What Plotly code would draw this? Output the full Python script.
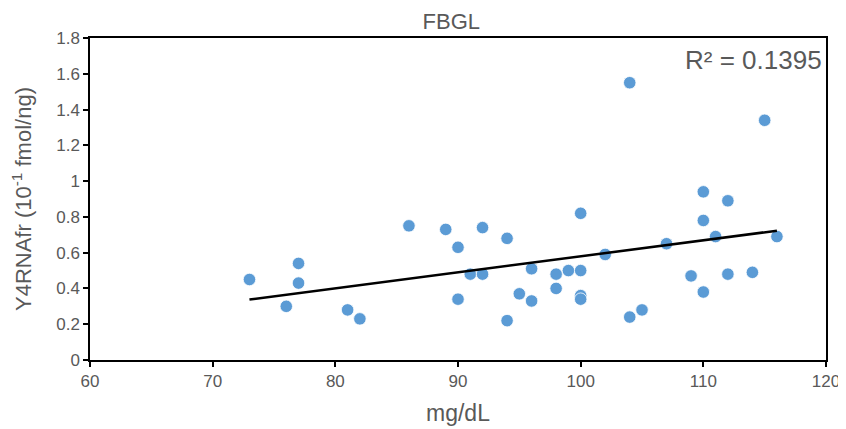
import numpy as np
import plotly.graph_objects as go

x_vals = [73, 76, 77, 77, 81, 82, 86, 89, 90, 90, 91, 92, 92, 94, 94, 95, 96, 96,
          98, 98, 99, 100, 100, 100, 100, 102, 104, 104, 105, 107, 109, 110, 110,
          110, 111, 112, 112, 114, 115, 116]
y_vals = [0.45, 0.30, 0.54, 0.43, 0.28, 0.23, 0.75, 0.73, 0.63, 0.34, 0.48, 0.74,
          0.48, 0.68, 0.22, 0.37, 0.51, 0.33, 0.48, 0.40, 0.50, 0.82, 0.50, 0.36,
          0.34, 0.59, 1.55, 0.24, 0.28, 0.65, 0.47, 0.94, 0.78, 0.38, 0.69, 0.89,
          0.48, 0.49, 1.34, 0.69]
r2_label = "R² = 0.1395"
title_text = "FBGL"
x_title = "mg/dL"
y_title = "Y4RNAfr (10<sup>-1</sup> fmol/ng)"

slope, intercept = np.polyfit(x_vals, y_vals, 1)
trend_x = [min(x_vals), max(x_vals)]
trend_y = [slope * v + intercept for v in trend_x]

FONT = "Liberation Sans, Arial, sans-serif"
GREY = "#595959"

fig = go.Figure()
fig.add_trace(go.Scatter(
    x=x_vals, y=y_vals, mode="markers",
    marker=dict(size=12.5, color="#5B9BD5", line=dict(color="#FFFFFF", width=0.8)),
    showlegend=False, hoverinfo="x+y"))
fig.add_trace(go.Scatter(
    x=trend_x, y=trend_y, mode="lines",
    line=dict(color="#000000", width=2.5), showlegend=False))

axis_common = dict(
    showline=True, linecolor="#000000", linewidth=1.5, mirror=True,
    ticks="outside", ticklen=5, tickwidth=1.5, tickcolor="#000000",
    showgrid=False, zeroline=False, automargin=False,
    tickfont=dict(family=FONT, size=17, color=GREY),
)

fig.update_layout(
    width=838, height=421,
    margin=dict(l=82, r=20, t=30, b=69),
    paper_bgcolor="#FFFFFF", plot_bgcolor="#FFFFFF",
    font=dict(family=FONT, color=GREY),
    title=dict(text=title_text, x=0.529, xanchor="center", y=0.969, yanchor="middle",
               font=dict(size=22, color=GREY)),
    xaxis=dict(range=[60, 120], dtick=10, tick0=60,
               title=dict(text=x_title, font=dict(size=23, color=GREY), standoff=15),
               **axis_common),
    yaxis=dict(range=[0, 1.8], dtick=0.2, tick0=0, tickformat="~g",
               title=dict(text=y_title, font=dict(size=22, color=GREY), standoff=27),
               **axis_common),
    annotations=[dict(text=r2_label, xref="paper", yref="paper", x=0.997, y=0.932,
                      xanchor="right", yanchor="middle", showarrow=False,
                      font=dict(size=26, color=GREY))],
)

fig.write_html("out.html")
